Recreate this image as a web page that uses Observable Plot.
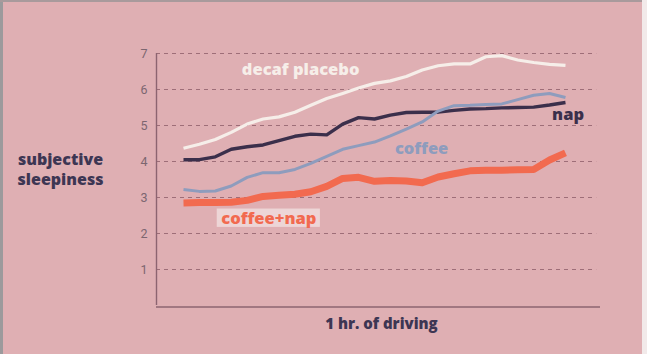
<!DOCTYPE html>
<html>
<head>
<meta charset="utf-8">
<script src="https://cdn.jsdelivr.net/npm/d3@7"></script>
<script src="https://cdn.jsdelivr.net/npm/@observablehq/plot@0.6"></script>
<style>
  html, body { margin: 0; padding: 0; background: #dfafb3; }
  #wrap { position: relative; width: 647px; height: 354px; overflow: hidden; }
  #wrap svg { display: block; }
  .edge { position: absolute; pointer-events: none; }
</style>
</head>
<body>
<div id="wrap"></div>
<script>
// Minutes of driving (one reading every 2.5 minutes over 1 hour)
const minutes = [0, 2.5, 5, 7.5, 10, 12.5, 15, 17.5, 20, 22.5, 25, 27.5, 30, 32.5, 35, 37.5, 40, 42.5, 45, 47.5, 50, 52.5, 55, 57.5, 60];

const decafPlacebo = [4.37, 4.48, 4.61, 4.81, 5.04, 5.18, 5.24, 5.37, 5.56, 5.75, 5.89, 6.04, 6.17, 6.24, 6.36, 6.54, 6.66, 6.71, 6.71, 6.91, 6.94, 6.82, 6.75, 6.70, 6.67];
const nap          = [4.05, 4.05, 4.13, 4.34, 4.41, 4.46, 4.58, 4.70, 4.76, 4.74, 5.04, 5.22, 5.18, 5.29, 5.36, 5.37, 5.37, 5.42, 5.46, 5.47, 5.49, 5.50, 5.51, 5.57, 5.64];
const coffee       = [3.22, 3.17, 3.18, 3.32, 3.56, 3.69, 3.69, 3.78, 3.95, 4.14, 4.34, 4.44, 4.54, 4.71, 4.90, 5.10, 5.40, 5.55, 5.56, 5.58, 5.60, 5.72, 5.84, 5.89, 5.78];
const coffeeNap    = [2.85, 2.86, 2.86, 2.87, 2.92, 3.03, 3.06, 3.09, 3.16, 3.31, 3.53, 3.56, 3.45, 3.47, 3.46, 3.41, 3.57, 3.66, 3.74, 3.76, 3.76, 3.77, 3.78, 4.04, 4.24];

const yTicks = [1, 2, 3, 4, 5, 6, 7];
const xDomain = [-4.24, 65.5];
const yDomain = [0, 7];

const seriesNames  = ["decaf placebo", "nap", "coffee", "coffee+nap"];
const seriesValues = [decafPlacebo, nap, coffee, coffeeNap];
const seriesColors = ["#f6eee9", "#3b2f4b", "#8e9cbd", "#f26a4f"];
const seriesWidths = [3.2, 3.4, 3, 7];

// Series label positions (minutes, sleepiness); "nap" is left-aligned
const labelX = [18.4, 57.9, 37.4, 13.4];
const labelY = [6.56, 5.3, 4.36, 2.42];
const labelStart = [false, true, false, false];

const rows = [];
seriesNames.forEach((name, s) => {
  minutes.forEach((m, i) => rows.push({series: name, minute: m, value: seriesValues[s][i]}));
});
const labels = seriesNames.map((name, s) => ({
  name, x: labelX[s], y: labelY[s], start: labelStart[s], color: seriesColors[s]
}));
// pale box behind the "coffee+nap" label
const labelBox = [{x1: 5.3, x2: 21.5, y1: 2.17, y2: 2.68}];

const font = "'Open Sans', 'DejaVu Sans', sans-serif";

const chart = Plot.plot({
  width: 647,
  height: 354,
  marginLeft: 156,
  marginRight: 47,
  marginTop: 53,
  marginBottom: 49,
  style: {background: "transparent", fontFamily: font, overflow: "visible"},
  x: {domain: xDomain, axis: null},
  y: {domain: yDomain, axis: null},
  marks: [
    Plot.gridY(yTicks, {stroke: "#93636d", strokeOpacity: 0.85, strokeWidth: 1.1, strokeDasharray: "4,4", x1: xDomain[0], x2: 64.9}),
    Plot.axisY(yTicks, {tickSize: 0, tickPadding: 9, fontSize: 12.5, fill: "#7c6670", label: null, fontFamily: "Roboto, sans-serif"}),
    Plot.ruleX([xDomain[0]], {y1: yDomain[0], y2: yDomain[1], stroke: "#8c6470", strokeWidth: 1.4}),
    Plot.ruleY([yDomain[0]], {x1: xDomain[0], x2: xDomain[1], stroke: "#8c6470", strokeWidth: 1.6, dy: 1.5}),
    ...seriesNames.map((name, s) =>
      Plot.line(rows.filter(d => d.series === name), {
        x: "minute", y: "value", stroke: seriesColors[s], strokeWidth: seriesWidths[s],
        strokeLinejoin: "round", strokeLinecap: "butt"
      })
    ),
    Plot.rect(labelBox, {x1: "x1", x2: "x2", y1: "y1", y2: "y2", fill: "#f0dcdc", fillOpacity: 0.85}),
    Plot.text(labels.filter(d => !d.start), {
      x: "x", y: "y", text: "name", textAnchor: "middle", fill: "color",
      fontSize: 16.5, fontWeight: 800, fontFamily: font
    }),
    Plot.text(labels.filter(d => d.start), {
      x: "x", y: "y", text: "name", textAnchor: "start", fill: "color",
      fontSize: 16.5, fontWeight: 800, fontFamily: font
    }),
    Plot.text(["subjective\nsleepiness"], {
      frameAnchor: "left", dx: -96, dy: -11, textAnchor: "middle", lineHeight: 1.25,
      fontSize: 16, fontWeight: 800, fill: "#3d3653", fontFamily: font
    }),
    Plot.text(["1 hr. of driving"], {
      frameAnchor: "bottom", dx: 3, dy: 23, textAnchor: "middle",
      fontSize: 15, fontWeight: 800, fill: "#3d3653", fontFamily: font
    })
  ]
});

const wrap = document.getElementById("wrap");
wrap.appendChild(chart);
// photo frame edges
[["left:0;top:0;width:3px;height:354px;background:#9c9a9c"],
 ["left:0;top:0;width:647px;height:2px;background:#a89a9c"],
 ["right:0;top:0;width:5px;height:354px;background:#f2eaea"]].forEach(([css]) => {
  const e = document.createElement("div");
  e.className = "edge";
  e.style.cssText = css;
  wrap.appendChild(e);
});
</script>
</body>
</html>
